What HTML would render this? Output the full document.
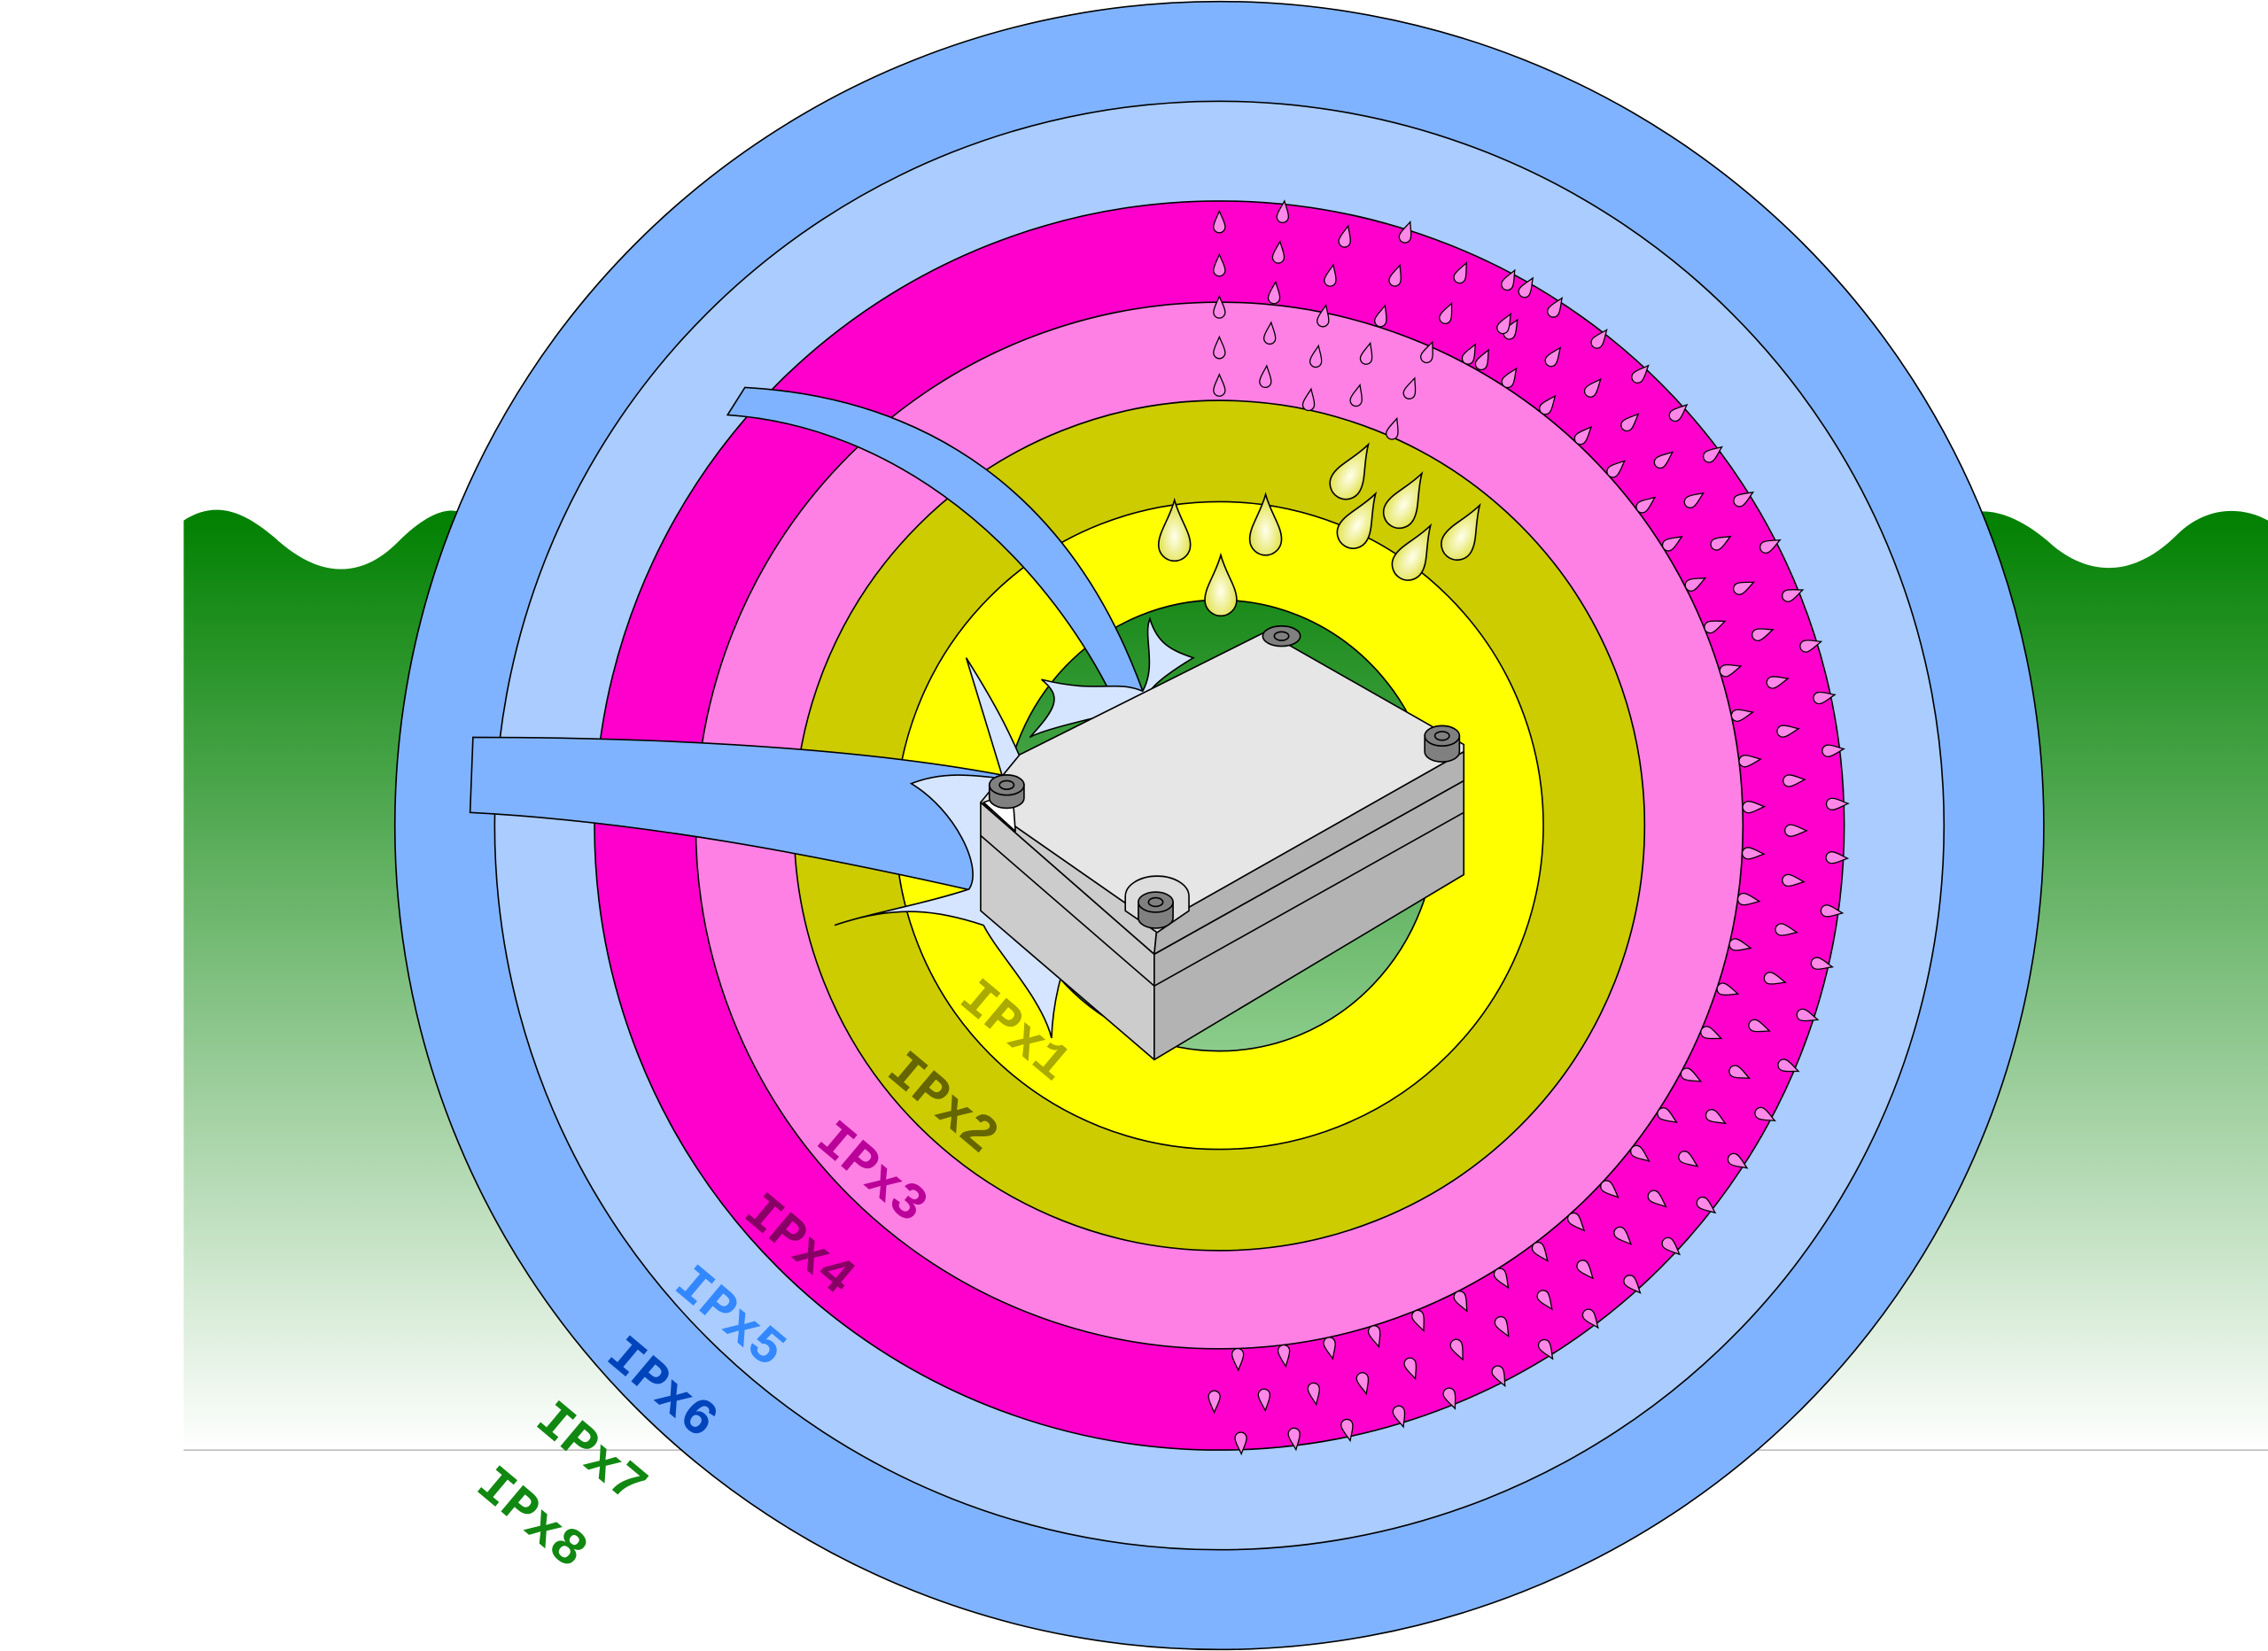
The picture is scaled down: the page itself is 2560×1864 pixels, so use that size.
<!DOCTYPE html>
<html><head><meta charset="utf-8"><style>
html,body{margin:0;padding:0;background:#fff;}
svg{display:block;}
.t{font-family:"Liberation Mono","DejaVu Sans Mono",monospace;font-weight:bold;font-size:36px;}
</style></head><body>
<svg id="s" width="2560" height="1864" viewBox="0 0 1568 1142" preserveAspectRatio="none" xmlns="http://www.w3.org/2000/svg">
<defs>
<linearGradient id="g" x1="0" y1="0" x2="0" y2="1">
<stop offset="0" stop-color="#008000"/><stop offset="1" stop-color="#ffffff"/>
</linearGradient>
<radialGradient id="yd" cx="0.5" cy="0.6" r="0.6"><stop offset="0" stop-color="#ffffee"/><stop offset="1" stop-color="#dddd33"/></radialGradient>
<path id="drop" d="M0,-9 C2,-4 4,-1 4,2 A4,4 0 0 1 -4,2 C-4,-1 -2,-4 0,-9Z" fill="#ff88e8" stroke="#000" stroke-width="0.8"/>
<path id="ydrop" d="M0,-26 C4,-12 11,-4 11,5 A11,11 0 0 1 -11,5 C-11,-4 -4,-12 0,-26Z" fill="url(#yd)" stroke="#000" stroke-width="1"/>
<linearGradient id="ig2" x1="0" y1="0" x2="0" y2="1"><stop offset="0" stop-color="#1a8a1a"/><stop offset="1" stop-color="#8ccc8c"/></linearGradient>
</defs>
<path d="M127,1003 L127,360 C150,345 170,355 190,372 C215,395 245,405 275,375 C295,355 310,350 320,355 L1360,355 C1380,350 1400,360 1420,378 C1450,402 1480,395 1505,370 C1525,350 1550,350 1568,360 L1568,1003 Z" fill="url(#g)"/>
<line x1="127" y1="1003" x2="1568" y2="1003" stroke="#aaa" stroke-width="0.8"/>
<g stroke="#000" stroke-width="1">
<circle cx="843" cy="571" r="570" fill="#80b3ff"/>
<circle cx="843" cy="571" r="501" fill="#aaccff"/>
<circle cx="843" cy="571" r="432" fill="#ff00cc"/>
<circle cx="843" cy="571" r="362" fill="#ff80e5"/>
<circle cx="843" cy="571" r="294" fill="#cccc00"/>
<circle cx="843" cy="571" r="224" fill="#ffff00"/>
<ellipse cx="843" cy="571" rx="150" ry="156" fill="url(#ig2)"/>
</g>
<g id="drops"></g>
<use href="#ydrop" x="812" y="372"/><use href="#ydrop" x="875" y="368"/><use href="#ydrop" x="844" y="410"/>
<use href="#ydrop" x="933" y="330" transform="rotate(30 933 330)"/><use href="#ydrop" x="938" y="364" transform="rotate(30 938 364)"/>
<use href="#ydrop" x="970" y="350" transform="rotate(30 970 350)"/><use href="#ydrop" x="976" y="386" transform="rotate(30 976 386)"/><use href="#ydrop" x="1010" y="372" transform="rotate(30 1010 372)"/>
<!-- jets -->
<g stroke="#000" stroke-width="1">
<path d="M515,268 C640,275 740,340 790,478 L772,488 C720,380 620,295 503,287 Z" fill="#80b3ff"/>
<path d="M327,510 C480,510 620,520 712,540 L690,620 C560,590 440,568 325,562 Z" fill="#80b3ff"/>
<path d="M668,455 C690,490 700,510 712,540 C690,540 660,530 630,542 C660,560 680,600 670,615 C640,625 600,632 577,640 C620,625 650,630 680,640 C690,660 720,690 727,718 C728,690 735,670 740,655 L700,560 Z" fill="#d5e5ff"/>
<path d="M720,470 C760,480 770,470 790,478 C800,460 790,440 795,428 C800,445 810,450 825,455 C800,470 790,480 790,490 C760,495 720,505 712,510 C730,490 735,482 720,470Z" fill="#d5e5ff"/>
</g>
<!-- box -->
<g stroke="#000" stroke-width="1" stroke-linejoin="round">
<polygon points="678,555 798,660 798,733 678,630" fill="#cccccc"/>
<polygon points="798,660 1012,540 1012,605 798,733" fill="#b3b3b3"/>
<polygon points="678,555 705,522 875,437 1012,515 1012,540 798,660" fill="#e6e6e6"/>
<polyline points="678,555 800,640 1012,520" fill="none"/>
<polygon points="678,555 800,640 798,660" fill="#cccccc"/>
<polygon points="800,640 1012,520 1012,540 798,660" fill="#b3b3b3"/>
<polyline points="678,578 798,682 1012,562" fill="none"/>
<polygon points="680,555 700,548 702,575" fill="#fff"/>
<path d="M778,620 A22,14 0 0 1 822,620 L822,630 L800,645 L778,630Z" fill="#ddd"/>
</g>
<g stroke="#000" stroke-width="1" fill="#808080">
<path d="M684,543 v9 a12,7 0 0 0 24,0 v-9Z"/><ellipse cx="696" cy="543" rx="12" ry="7"/><ellipse cx="696" cy="543" rx="5" ry="3"/>
<path d="M787,624 v11 a12,7 0 0 0 24,0 v-11Z"/><ellipse cx="799" cy="624" rx="12" ry="7"/><ellipse cx="799" cy="624" rx="5" ry="3"/>
<ellipse cx="886" cy="440" rx="13" ry="7"/><ellipse cx="886" cy="440" rx="5" ry="3"/>
<path d="M985,509 v11 a12,7 0 0 0 24,0 v-11Z"/><ellipse cx="997" cy="509" rx="12" ry="7"/><ellipse cx="997" cy="509" rx="5" ry="3"/>
</g>
<!-- labels -->
<g class="t">
<text x="662" y="693" fill="#aaaa00" transform="rotate(40 662 693)">IPx1</text>
<text x="612" y="743" fill="#666600" transform="rotate(40 612 743)">IPx2</text>
<text x="563" y="791" fill="#bb0099" transform="rotate(40 563 791)">IPx3</text>
<text x="513" y="841" fill="#880066" transform="rotate(40 513 841)">IPx4</text>
<text x="465" y="891" fill="#3388ff" transform="rotate(40 465 891)">IPx5</text>
<text x="418" y="940" fill="#0044bb" transform="rotate(40 418 940)">IPx6</text>
<text x="369" y="985" fill="#118811" transform="rotate(40 369 985)">IPx7</text>
<text x="328" y="1030" fill="#118811" transform="rotate(40 328 1030)">IPx8</text>
</g>
</svg>
<script>
(function(){
var g=document.getElementById('drops'),ns='http://www.w3.org/2000/svg',cx=843,cy=571;
function add(x,y,rot){var u=document.createElementNS(ns,'use');u.setAttribute('href','#drop');u.setAttribute('transform','translate('+x.toFixed(1)+','+y.toFixed(1)+') rotate('+rot.toFixed(1)+')');g.appendChild(u);}
var radii=[368,397,426];
for(var a=28;a<=180;a+=5){radii.forEach(function(r,i){var aa=a+(i%2)*2.5;if(aa>181)return;var an=aa*Math.PI/180;var x=cx+r*Math.sin(an),y=cy-r*Math.cos(an);add(x,y,aa);});}
var pts=[[843,268],[843,242],[843,214],[843,185],[843,155],[875,262],[878,232],[881,204],[884,176],[887,148],[905,278],[910,248],[915,220],[920,192],[930,165],[938,275],[945,246],[955,220],[965,192],[972,162],[963,298],[975,270],[987,245],[1000,218],[1010,190],[1055,200],[1040,225],[1025,250]];
pts.forEach(function(p){add(p[0],p[1],(p[0]-843)*0.15);});
})();
</script>
</body></html>
